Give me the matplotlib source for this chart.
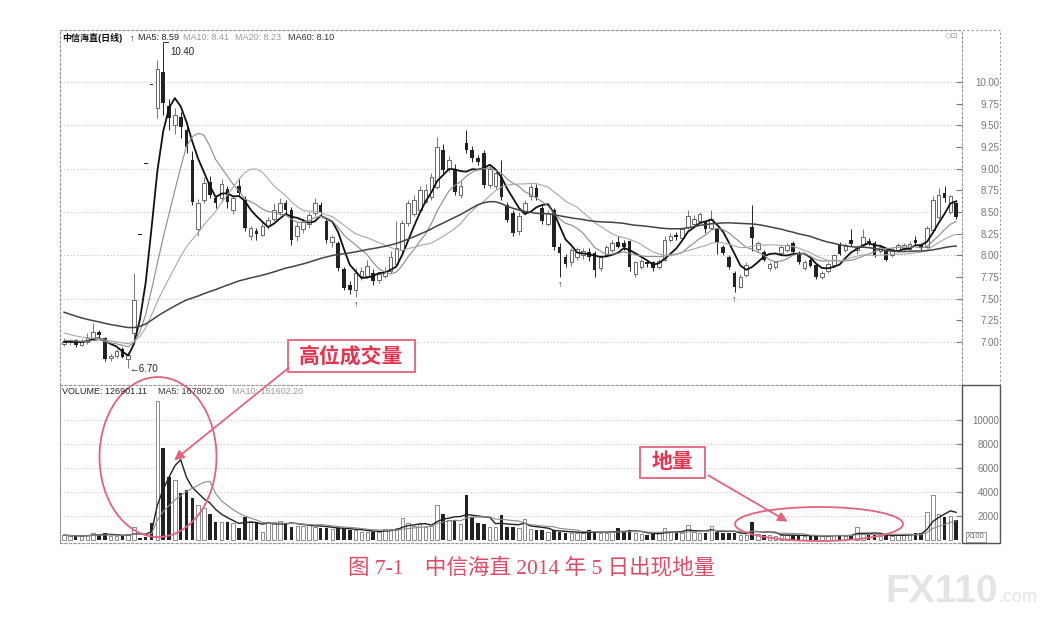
import matplotlib.pyplot as plt
import numpy as np
import pandas as pd
from matplotlib.patches import Ellipse, Rectangle

plt.rcParams['font.family'] = ['Liberation Sans', 'Noto Sans CJK SC', 'DejaVu Sans']

# 60 closes before the first visible bar, only used to seed the moving averages
pre_close = [8.45, 8.40, 8.30, 8.22, 8.10, 8.02, 7.90, 7.78, 7.70, 7.62,
             7.55, 7.50, 7.46, 7.42, 7.40, 7.36, 7.33, 7.30, 7.28, 7.30,
             7.32, 7.28, 7.25, 7.22, 7.20, 7.24, 7.26, 7.22, 7.18, 7.20,
             7.22, 7.25, 7.30, 7.34, 7.36, 7.33, 7.30, 7.28, 7.26, 7.30,
             7.32, 7.35, 7.30, 7.26, 7.22, 7.20, 7.16, 7.12, 7.10, 7.08,
             7.06, 7.05, 7.02, 7.04, 7.06, 7.03, 7.00, 6.99, 7.01, 7.00]

opens = [6.98, 7.00, 7.02, 6.97, 7.00, 7.04, 7.12, 7.05, 6.81, 6.84,
         6.92, 6.80, 7.10, 8.23, 9.05, 9.96, 9.70, 10.12, 9.72, 9.50,
         9.60, 9.45, 9.10, 8.30, 8.64, 8.85, 8.66, 8.66, 8.76, 8.52,
         8.80, 8.64, 8.22, 8.28, 8.24, 8.34, 8.42, 8.50, 8.60, 8.52,
         8.22, 8.30, 8.36, 8.49, 8.58, 8.40, 8.15, 8.14, 7.84, 7.66,
         7.60, 7.76, 7.76, 7.80, 7.72, 7.76, 7.82, 7.90, 8.06, 8.37,
         8.48, 8.52, 8.62, 8.67, 8.79, 9.22, 9.00, 9.00, 8.70, 9.30,
         9.22, 9.12, 9.18, 8.81, 8.80, 8.90, 8.58, 8.49, 8.28, 8.50,
         8.68, 8.78, 8.55, 8.36, 8.52, 8.10, 7.98, 7.92, 7.98, 8.00,
         8.04, 8.03, 7.85, 8.00, 8.06, 8.15, 8.14, 8.16, 7.78, 7.86,
         7.92, 7.92, 7.86, 7.95, 8.18, 8.24, 8.20, 8.33, 8.36, 8.40,
         8.38, 8.32, 8.30, 8.10, 7.98, 7.80, 7.64, 7.77, 8.33, 8.07,
         8.04, 7.85, 7.86, 8.03, 8.06, 8.14, 8.03, 7.85, 7.95, 7.89,
         7.75, 7.82, 7.89, 8.12, 8.06, 8.18, 8.06, 8.12, 8.17, 8.14,
         8.05, 8.05, 8.00, 8.06, 8.07, 8.07, 8.18, 8.12, 8.10, 8.29,
         8.44, 8.72, 8.50, 8.60]
highs = [7.05, 7.04, 7.03, 7.03, 7.10, 7.22, 7.14, 7.06, 6.86, 6.92,
         6.94, 6.88, 7.80, 8.23, 9.05, 9.96, 10.25, 10.40, 9.80, 9.70,
         9.65, 9.52, 9.20, 8.65, 8.90, 8.92, 8.70, 8.88, 8.80, 8.70,
         8.88, 8.68, 8.34, 8.32, 8.38, 8.44, 8.60, 8.66, 8.64, 8.56,
         8.38, 8.42, 8.50, 8.66, 8.62, 8.42, 8.24, 8.16, 7.86, 7.70,
         7.85, 7.86, 7.95, 7.84, 7.80, 7.86, 8.05, 8.40, 8.41, 8.64,
         8.70, 8.80, 8.82, 8.95, 9.37, 9.28, 9.15, 9.05, 8.86, 9.45,
         9.26, 9.16, 9.22, 9.04, 8.98, 9.10, 8.62, 8.52, 8.50, 8.64,
         8.82, 8.82, 8.58, 8.52, 8.55, 8.14, 8.02, 8.08, 8.10, 8.08,
         8.08, 8.05, 8.00, 8.12, 8.18, 8.22, 8.18, 8.18, 7.94, 7.96,
         7.95, 7.94, 7.96, 8.22, 8.26, 8.27, 8.32, 8.52, 8.46, 8.50,
         8.40, 8.52, 8.32, 8.12, 8.00, 7.82, 7.78, 7.92, 8.58, 8.16,
         8.06, 7.92, 7.94, 8.12, 8.14, 8.16, 8.05, 7.95, 7.97, 7.91,
         7.82, 7.92, 8.02, 8.15, 8.14, 8.30, 8.12, 8.30, 8.20, 8.16,
         8.12, 8.07, 8.09, 8.14, 8.14, 8.16, 8.22, 8.14, 8.34, 8.68,
         8.78, 8.80, 8.70, 8.62]
lows = [6.95, 6.96, 6.94, 6.95, 6.98, 7.02, 7.04, 6.78, 6.78, 6.82,
        6.82, 6.70, 7.05, 8.23, 9.05, 9.96, 9.58, 9.62, 9.45, 9.40,
        9.35, 9.18, 8.58, 8.22, 8.60, 8.66, 8.55, 8.62, 8.55, 8.48,
        8.68, 8.28, 8.18, 8.18, 8.22, 8.30, 8.40, 8.46, 8.48, 8.12,
        8.16, 8.26, 8.32, 8.45, 8.46, 8.14, 8.10, 7.82, 7.60, 7.55,
        7.52, 7.72, 7.74, 7.66, 7.68, 7.74, 7.80, 7.86, 8.02, 8.34,
        8.45, 8.50, 8.60, 8.64, 8.76, 8.95, 8.96, 8.70, 8.66, 9.18,
        9.08, 9.04, 8.78, 8.78, 8.76, 8.64, 8.38, 8.22, 8.24, 8.46,
        8.64, 8.64, 8.36, 8.34, 8.06, 7.75, 7.86, 7.88, 7.95, 7.96,
        7.94, 7.75, 7.82, 7.98, 8.04, 8.08, 8.06, 7.82, 7.75, 7.84,
        7.87, 7.82, 7.84, 7.93, 8.15, 8.18, 8.18, 8.30, 8.34, 8.38,
        8.26, 8.30, 8.02, 8.00, 7.84, 7.58, 7.62, 7.75, 8.05, 8.04,
        7.93, 7.82, 7.84, 8.00, 8.04, 8.02, 7.90, 7.83, 7.86, 7.73,
        7.73, 7.80, 7.87, 8.00, 8.04, 8.11, 8.02, 8.10, 8.12, 7.98,
        8.03, 7.93, 7.98, 8.04, 8.05, 8.05, 8.12, 8.06, 8.08, 8.26,
        8.42, 8.62, 8.48, 8.42]
closes = [7.00, 7.02, 6.97, 7.01, 7.05, 7.12, 7.08, 6.80, 6.84, 6.90,
          6.83, 6.85, 7.48, 8.23, 9.05, 9.96, 10.15, 9.76, 9.58, 9.62,
          9.48, 9.25, 8.62, 8.60, 8.84, 8.70, 8.60, 8.82, 8.62, 8.66,
          8.72, 8.32, 8.31, 8.25, 8.34, 8.41, 8.52, 8.60, 8.52, 8.18,
          8.34, 8.38, 8.46, 8.60, 8.50, 8.18, 8.21, 7.85, 7.62, 7.60,
          7.80, 7.82, 7.88, 7.70, 7.78, 7.82, 7.98, 8.08, 8.37, 8.60,
          8.64, 8.75, 8.75, 8.90, 9.25, 8.98, 9.10, 8.73, 8.80, 9.22,
          9.12, 9.08, 8.81, 9.00, 8.95, 8.67, 8.41, 8.26, 8.45, 8.60,
          8.79, 8.67, 8.40, 8.49, 8.10, 8.03, 7.90, 8.06, 8.07, 8.05,
          7.98, 7.83, 7.98, 8.10, 8.14, 8.10, 8.10, 7.86, 7.92, 7.93,
          7.90, 7.85, 7.94, 8.18, 8.22, 8.21, 8.30, 8.45, 8.42, 8.48,
          8.30, 8.42, 8.14, 8.03, 7.86, 7.63, 7.75, 7.89, 8.20, 8.14,
          7.95, 7.90, 7.92, 8.10, 8.12, 8.04, 7.92, 7.92, 7.88, 7.75,
          7.80, 7.90, 8.00, 8.02, 8.12, 8.13, 8.10, 8.21, 8.14, 8.00,
          8.10, 7.95, 8.07, 8.12, 8.12, 8.13, 8.14, 8.08, 8.31, 8.64,
          8.70, 8.66, 8.68, 8.44]
volumes = [400, 350, 300, 300, 450, 600, 450, 550, 300, 300,
           350, 500, 1100, 200, 250, 1400, 11600, 7700, 5250, 5000,
           3900, 4200, 3500, 2900, 2650, 2200, 1500, 1500, 1500, 1400,
           1000, 1900, 1600, 1400, 700, 1500, 1500, 1600, 1400, 1100,
           1200, 1200, 1300, 1100, 1000, 1000, 900, 1000, 1000, 800,
           800, 700, 700, 700, 700, 900, 900, 1000, 1800, 1400,
           1200, 1300, 1100, 1200, 2900, 2200, 1700, 1670, 1300, 3750,
           1900, 1400, 1300, 1100, 1100, 2080, 1100, 1100, 1000, 1750,
           900, 800, 800, 700, 800, 700, 600, 600, 600, 550,
           830, 700, 600, 600, 650, 1000, 700, 800, 600, 500,
           450, 500, 550, 1000, 700, 650, 600, 1250, 700, 600,
           550, 1200, 700, 600, 550, 600, 450, 450, 1500, 500,
           450, 400, 350, 450, 400, 400, 350, 300, 350, 400,
           350, 300, 400, 400, 350, 450, 1100, 500, 400, 450,
           350, 400, 350, 400, 450, 500, 550, 600, 2300, 3750,
           2200, 1900, 2000, 1670]

price_ticks = [10.00, 9.75, 9.50, 9.25, 9.00, 8.75, 8.50, 8.25, 8.00, 7.75, 7.50, 7.25, 7.00]
price_grid = [10.0, 9.5, 9.0, 8.5, 8.0, 7.5, 7.0]
vol_ticks = [10000, 8000, 6000, 4000, 2000]

o = np.array(opens); h = np.array(highs); l = np.array(lows); c = np.array(closes)
v = np.array(volumes)
x = np.arange(len(c))

allc = pd.Series(pre_close + closes)
npre = len(pre_close)
ma5 = allc.rolling(5).mean().values[npre:]
ma10 = allc.rolling(10).mean().values[npre:]
ma20 = allc.rolling(20).mean().values[npre:]
ma60 = allc.rolling(60).mean().values[npre:]
vs = pd.Series(volumes)
vma5 = vs.rolling(5, min_periods=1).mean().values
vma10 = vs.rolling(10, min_periods=1).mean().values

W, H = 1062, 619
fig = plt.figure(figsize=(W / 100, H / 100), dpi=100)


def px_rect(x0, y0, x1, y1):
    return [x0 / W, 1 - y1 / H, (x1 - x0) / W, (y1 - y0) / H]


ax = fig.add_axes(px_rect(60, 30, 962, 385))
axv = fig.add_axes(px_rect(60, 385, 962, 543))

up = c > o
body_lo = np.minimum(o, c)
body_h = np.maximum(np.abs(c - o), 0.012)

# candles
ax.vlines(x[up], l[up], h[up], color='#777777', lw=0.7, zorder=2)
ax.vlines(x[~up], l[~up], h[~up], color='#222222', lw=0.7, zorder=2)
ax.bar(x[up], body_h[up], bottom=body_lo[up], width=0.62,
       facecolor='white', edgecolor='#666666', lw=0.7, zorder=3)
ax.bar(x[~up], body_h[~up], bottom=body_lo[~up], width=0.62,
       color='#222222', lw=0, zorder=3)

ax.plot(x, ma5, color='#111111', lw=1.3, zorder=4)
ax.plot(x, ma10, color='#8a8a8a', lw=0.8, zorder=4)
ax.plot(x, ma20, color='#a8a8a8', lw=0.8, zorder=4)
ax.plot(x, ma60, color='#444444', lw=1.1, zorder=4)

# high / low marks
ih = int(np.argmax(h)); il = int(np.argmin(l))
ax.plot([ih, ih, ih + 0.9], [h[ih], h[ih] + 0.06, h[ih] + 0.06], color='#333333', lw=0.7)
ax.text(ih + 1.3, h[ih] - 0.05, '%.2f' % h[ih], fontsize=7, va='center', color='#222222')
ax.text(il + 0.2, l[il] - 0.01, '←%.2f' % l[il], fontsize=7, va='center', color='#222222')
for i in [50, 85, 115]:
    ax.text(i, l[i] - 0.03, '↑', fontsize=6.5, fontweight='bold', ha='center', va='top',
            color='#222222')

ax.set_xlim(-0.7, 154.0)
ax.set_ylim(6.504, 10.60)
for g in price_grid:
    ax.axhline(g, color='#bbbbbb', lw=0.6, ls=(0, (1.5, 2.5)), zorder=1)
ax.set_yticks(price_ticks)
ax.set_yticklabels(['%.2f' % t for t in price_ticks])

# volume
axv.bar(x[up], v[up], width=0.6, facecolor='white', edgecolor='#777777', lw=0.6, zorder=3)
axv.bar(x[~up], v[~up], width=0.6, color='#222222', lw=0, zorder=3)
axv.plot(x, vma5, color='#222222', lw=1.0, zorder=4)
axv.plot(x, vma10, color='#8a8a8a', lw=0.8, zorder=4)
axv.set_xlim(-0.7, 154.0)
axv.set_ylim(-250, 12917)
for g in vol_ticks:
    axv.axhline(g, color='#bbbbbb', lw=0.6, ls=(0, (1.5, 2.5)), zorder=1)
axv.set_yticks(vol_ticks)
axv.set_yticklabels([str(t) for t in vol_ticks])

for a in (ax, axv):
    a.set_xticks([])
    a.yaxis.tick_right()
    a.tick_params(axis='y', direction='in', length=4, pad=27, labelsize=7,
                  colors='#777777')
    for lbl in a.get_yticklabels():
        lbl.set_horizontalalignment('right')
    for s in a.spines.values():
        s.set_color('#999999')
        s.set_linestyle((0, (2, 2)))
        s.set_linewidth(0.8)

# overlay in pixel units for frame, headers and the red notes
ov = fig.add_axes([0, 0, 1, 1])
ov.set_xlim(0, W)
ov.set_ylim(H, 0)
ov.axis('off')
ov.add_patch(Rectangle((60, 30), 940, 513, fill=False, ec='#999999', lw=0.8, ls=(0, (2, 2))))
ov.add_patch(Rectangle((962, 385), 38, 158, fill=False, ec='#555555', lw=1.0))
ov.text(952, 36, '◇⊡', fontsize=6, color='#999999', ha='center', va='center',
        family='DejaVu Sans')

ov.text(62, 38, '中信海直(日线)', fontsize=6.5, color='#111111', va='center',
        fontweight='bold')
hdr = [(130, '↑', '#111111'), (138, 'MA5: 8.59', '#222222'),
       (183, 'MA10: 8.41', '#9a9a9a'), (235, 'MA20: 8.23', '#9a9a9a'), (288, 'MA60: 8.10', '#333333')]
for px, s, col in hdr:
    ov.text(px, 38, s, fontsize=6.5, color=col, va='center', ha='left')
vhdr = [(62, 'VOLUME: 126901.11', '#222222'), (158, 'MA5: 167802.00', '#333333'),
        (232, 'MA10: 151602.20', '#9a9a9a')]
for px, s, col in vhdr:
    ov.text(px, 392, s, fontsize=6.5, color=col, va='center', ha='left')
ov.text(976, 537, 'X100', fontsize=5.5, color='#666666', ha='center', va='center',
        bbox=dict(boxstyle='square,pad=0.15', fc='white', ec='#888888', lw=0.6))

red = '#e5627c'
txt_red = '#e8334f'
ov.add_patch(Ellipse((158, 457), 117, 160, fill=False, ec=red, lw=1.3))
ov.add_patch(Ellipse((819, 524), 168, 34, fill=False, ec=red, lw=1.3))
ov.annotate('', xy=(172, 462), xytext=(291, 366),
            arrowprops=dict(arrowstyle='-|>', color=red, lw=1.3, mutation_scale=14))
ov.annotate('', xy=(790, 523), xytext=(706, 474),
            arrowprops=dict(arrowstyle='-|>', color=red, lw=1.3, mutation_scale=14))
ov.add_patch(Rectangle((288, 340), 127, 32, fc='white', ec=red, lw=1.3))
ov.text(351.5, 356, '高位成交量', fontsize=15, fontweight='bold', color=txt_red,
        ha='center', va='center')
ov.add_patch(Rectangle((640, 447), 65, 31, fc='white', ec=red, lw=1.3))
ov.text(672.5, 462, '地量', fontsize=15, fontweight='bold', color=txt_red,
        ha='center', va='center')

ov.text(532, 568, '图 7-1    中信海直 2014 年 5 日出现地量', fontsize=15.5, color='#e04a64',
        ha='center', va='center', family=['Liberation Serif', 'Noto Sans CJK SC'])
ov.text(885, 592, 'FX110', fontsize=28, fontweight='bold', color='#e4e4e4', va='center')
ov.text(998, 598, '.com', fontsize=13, color='#e4e4e4', va='center')

fig.savefig('out.png', dpi=100)
